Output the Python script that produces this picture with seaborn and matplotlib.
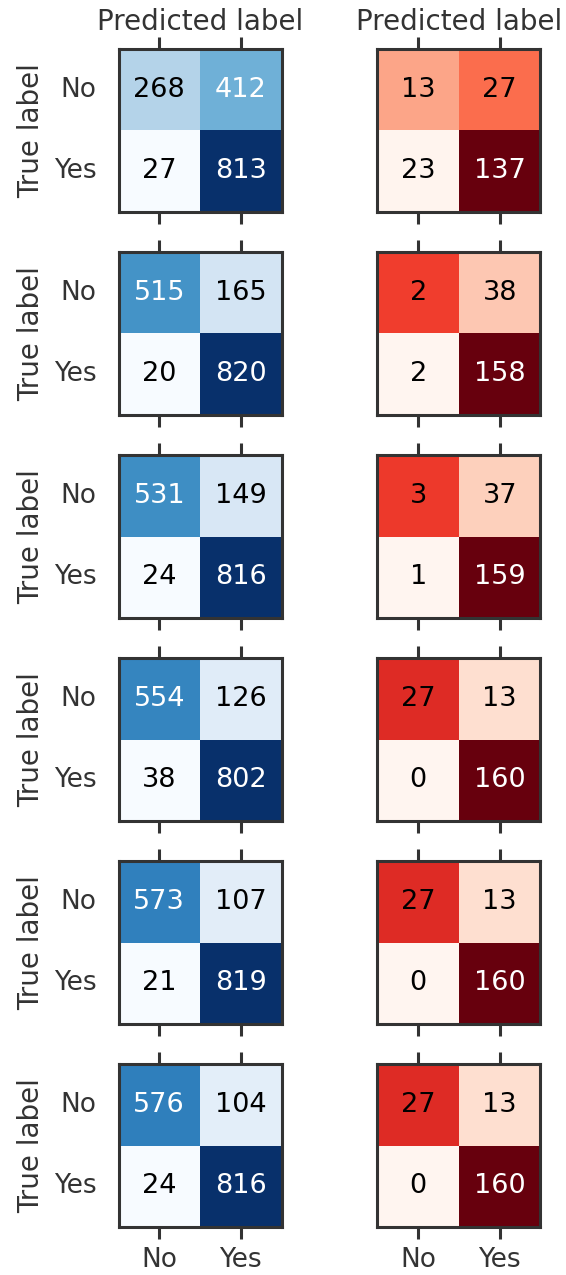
import numpy as np
import matplotlib
matplotlib.use('Agg')
import matplotlib.pyplot as plt
import seaborn as sns

# Matrices de confusion (conteos) - columna izquierda
blue_counts = [
    [[268, 412], [27, 813]],
    [[515, 165], [20, 820]],
    [[531, 149], [24, 816]],
    [[554, 126], [38, 802]],
    [[573, 107], [21, 819]],
    [[576, 104], [24, 816]],
]

# Matrices de confusion (conteos) - columna derecha
red_counts = [
    [[13, 27], [23, 137]],
    [[2, 38], [2, 158]],
    [[3, 37], [1, 159]],
    [[27, 13], [0, 160]],
    [[27, 13], [0, 160]],
    [[27, 13], [0, 160]],
]

# Intensidad de color de la columna derecha (0-1)
red_shades = [
    [[0.32, 0.49], [0.01, 1.0]],
    [[0.62, 0.21], [0.0, 1.0]],
    [[0.63, 0.18], [0.0, 1.0]],
    [[0.68, 0.13], [0.0, 1.0]],
    [[0.68, 0.13], [0.0, 1.0]],
    [[0.68, 0.13], [0.0, 1.0]],
]

class_labels = ['No', 'Yes']

sns.set_style('ticks')
ink = '#333333'
plt.rcParams['text.color'] = ink
plt.rcParams['axes.labelcolor'] = ink
plt.rcParams['xtick.color'] = ink
plt.rcParams['ytick.color'] = ink

fig, axes = plt.subplots(6, 2, figsize=(5.66, 12.75), dpi=100)
fig.subplots_adjust(left=0.2085, right=0.9558, top=0.9616, bottom=0.0376,
                    wspace=0.579, hspace=0.2454)


def draw_cm(ax, counts, shades, cmap, vmin=None, vmax=None):
    counts = np.array(counts)
    sns.heatmap(np.array(shades), cmap=cmap, cbar=False, ax=ax, square=True,
                vmin=vmin, vmax=vmax)
    thresh = counts.max() / 2.0
    for i in range(2):
        for j in range(2):
            ax.text(j + 0.5, i + 0.5, str(counts[i, j]), ha='center', va='center',
                    fontsize=19.5, color='white' if counts[i, j] > thresh else 'black')
    for sp in ax.spines.values():
        sp.set_visible(True)
        sp.set_color(ink)
        sp.set_linewidth(2.2)


n_rows = len(blue_counts)
for r in range(n_rows):
    ax_l = axes[r, 0]
    ax_r = axes[r, 1]
    draw_cm(ax_l, blue_counts[r], blue_counts[r], 'Blues')
    draw_cm(ax_r, red_counts[r], red_shades[r], 'Reds', vmin=0, vmax=1)

    for ax in (ax_l, ax_r):
        ax.set_xticks([0.5, 1.5])
        ax.set_xticklabels(class_labels if r == n_rows - 1 else ['', ''], fontsize=19)
        ax.tick_params(axis='x', top=True, bottom=True, labeltop=False,
                       labelbottom=(r == n_rows - 1), length=8.5, width=2.2,
                       direction='out', pad=6)
        if r == 0:
            ax.xaxis.set_label_position('top')
            ax.set_xlabel('Predicted label', fontsize=20, labelpad=5)
        else:
            ax.set_xlabel('')

    ax_l.set_yticks([0.5, 1.5])
    ax_l.set_yticklabels(class_labels, fontsize=19, rotation=0)
    ax_l.tick_params(axis='y', left=True, length=0, pad=16)
    ax_l.set_ylabel('True label', fontsize=20, labelpad=6)

    ax_r.set_yticks([])
    ax_r.set_ylabel('')

plt.savefig('out.png', dpi=100)
plt.close()
